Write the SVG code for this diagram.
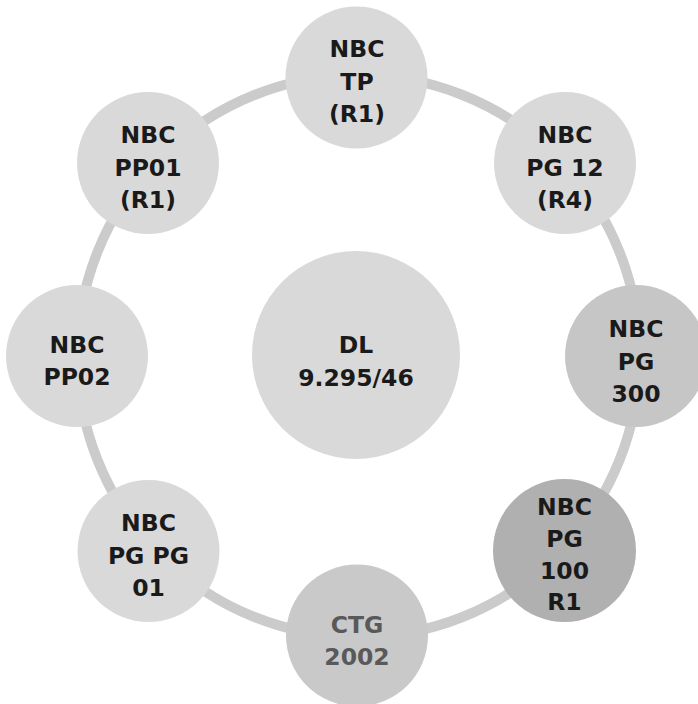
<svg xmlns="http://www.w3.org/2000/svg" width="698" height="704" viewBox="0 0 698 704">
<style>
.n{fill:#d9d9d9}
.m{fill:#c6c6c6}
.d{fill:#b0b0b0}
.c{fill:#c9c9c9}
text{font-family:"DejaVu Sans","Liberation Sans",sans-serif;font-weight:bold;font-size:23.5px;fill:#1a1a1a;text-anchor:middle}
text.g{fill:#595959}
.ring{fill:none;stroke:#cbcbcb;stroke-width:10}
</style>
<rect width="698" height="704" fill="#ffffff"/>
<g id="connectors">
<circle class="ring" cx="358.5" cy="356" r="281"/>
</g>
<g id="center">
<circle class="n" cx="356" cy="355" r="104"/>
<text x="356" y="353">DL</text>
<text x="356" y="386">9.295/46</text>
</g>
<g id="n-top">
<circle class="n" cx="356.5" cy="77.5" r="71"/>
<text x="357" y="57">NBC</text>
<text x="357" y="90">TP</text>
<text x="357" y="122">(R1)</text>
</g>
<g id="n-topright">
<circle class="n" cx="565" cy="163" r="71"/>
<text x="565" y="143">NBC</text>
<text x="565" y="176">PG 12</text>
<text x="565" y="208">(R4)</text>
</g>
<g id="n-right">
<circle class="m" cx="636" cy="356" r="71"/>
<text x="636" y="337">NBC</text>
<text x="636" y="370">PG</text>
<text x="636" y="402">300</text>
</g>
<g id="n-bottomright">
<circle class="d" cx="564.5" cy="550.5" r="71.5"/>
<text x="564.5" y="515">NBC</text>
<text x="564.5" y="547">PG</text>
<text x="564.5" y="579">100</text>
<text x="564.5" y="610">R1</text>
</g>
<g id="n-bottom">
<circle class="c" cx="357" cy="635.5" r="71"/>
<text class="g" x="357" y="633">CTG</text>
<text class="g" x="357" y="665">2002</text>
</g>
<g id="n-bottomleft">
<circle class="n" cx="148.5" cy="551" r="71"/>
<text x="148.5" y="531">NBC</text>
<text x="148.5" y="564">PG PG</text>
<text x="148.5" y="596">01</text>
</g>
<g id="n-left">
<circle class="n" cx="77" cy="356" r="71"/>
<text x="77" y="353">NBC</text>
<text x="77" y="385">PP02</text>
</g>
<g id="n-topleft">
<circle class="n" cx="148" cy="163" r="71"/>
<text x="148" y="143">NBC</text>
<text x="148" y="176">PP01</text>
<text x="148" y="208">(R1)</text>
</g>
</svg>
